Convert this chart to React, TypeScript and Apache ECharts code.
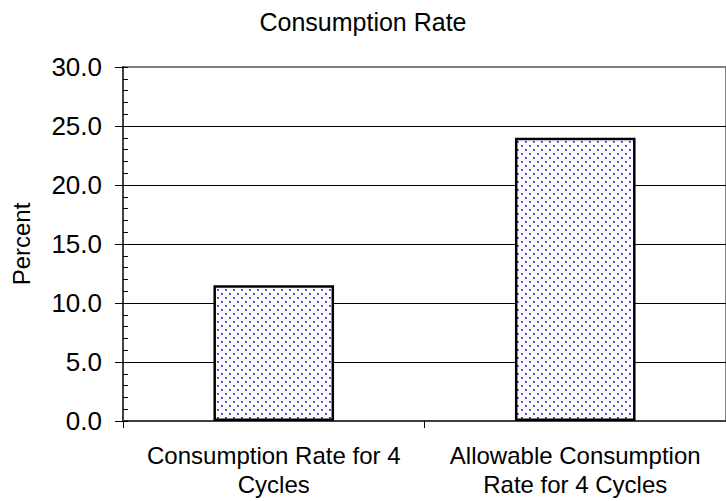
import React, { useEffect, useRef } from "react";
import * as echarts from "echarts";

const titleText = "Consumption Rate";
const categories = ["Consumption Rate for 4\nCycles", "Allowable Consumption\nRate for 4 Cycles"];
const values = [11.5, 24.0];
const yAxisName = "Percent";
const yMin = 0;
const yMax = 30;
const yInterval = 5;

const FONT = "'Liberation Sans', Arial, sans-serif";

function makePattern(): string {
  const c = document.createElement("canvas");
  c.width = 8;
  c.height = 8;
  const ctx = c.getContext("2d")!;
  ctx.fillStyle = "#ffffff";
  ctx.fillRect(0, 0, 8, 8);
  const dot = (x: number, y: number) => {
    ctx.fillStyle = "#7070ff";
    ctx.fillRect(x, y, 2, 2);
    ctx.fillStyle = "#0000ff";
    ctx.fillRect(x, y, 1, 1);
  };
  dot(1, 1);
  dot(5, 5);
  return c.toDataURL();
}

export default function App() {
  const ref = useRef<HTMLDivElement>(null);
  useEffect(() => {
    document.body.style.margin = "0";
    const chart = echarts.init(ref.current!, undefined, { renderer: "svg" });
    const pattern = makePattern();
    chart.setOption({
      animation: false,
      backgroundColor: "#ffffff",
      title: {
        text: titleText,
        left: "center",
        top: 4,
        textStyle: { fontFamily: FONT, fontSize: 25, fontWeight: "normal", color: "#000" },
      },
      grid: {
        left: 123,
        top: 67,
        bottom: 80,
        width: 608,
        show: true,
        borderColor: "#808080",
        borderWidth: 2,
        backgroundColor: "transparent",
      },
      xAxis: {
        type: "category",
        data: categories,
        boundaryGap: true,
        axisLine: { lineStyle: { color: "#404040", width: 2 } },
        axisTick: { show: true, length: 7, lineStyle: { color: "#000", width: 1 } },
        axisLabel: {
          fontFamily: FONT,
          fontSize: 24,
          color: "#000",
          margin: 20,
          lineHeight: 29,
          interval: 0,
        },
      },
      yAxis: [
        {
          type: "value",
          min: yMin,
          max: yMax,
          interval: yInterval,
          name: yAxisName,
          nameLocation: "middle",
          nameGap: 90,
          nameTextStyle: { fontFamily: FONT, fontSize: 24, color: "#000" },
          axisLine: { show: true, lineStyle: { color: "#404040", width: 2 } },
          axisTick: { show: true, inside: false, length: 8, lineStyle: { color: "#000", width: 1 } },
          axisLabel: {
            fontFamily: FONT,
            fontSize: 26,
            color: "#000",
            margin: 21,
            formatter: (v: number) => v.toFixed(1),
          },
          splitLine: {
            show: true,
            lineStyle: {
              color: ["#000", "#000", "#000", "#000", "#000", "#000", "#808080"],
              width: 1,
            },
          },
        },
        {
          type: "value",
          position: "left",
          min: yMin,
          max: yMax,
          interval: 1,
          axisLine: { show: false },
          axisTick: { show: true, inside: true, length: 5, lineStyle: { color: "#000", width: 1 } },
          axisLabel: { show: false },
          splitLine: { show: false },
        },
      ],
      series: [
        {
          type: "bar",
          yAxisIndex: 0,
          data: values,
          barWidth: "40%",
          itemStyle: {
            color: { image: pattern, repeat: "repeat" },
            borderColor: "#000",
            borderWidth: 2.5,
          },
        },
      ],
    });
    return () => chart.dispose();
  }, []);
  return (
    <div
      ref={ref}
      style={{ position: "fixed", left: 0, top: 0, width: 726, height: 501, background: "#fff" }}
    />
  );
}
